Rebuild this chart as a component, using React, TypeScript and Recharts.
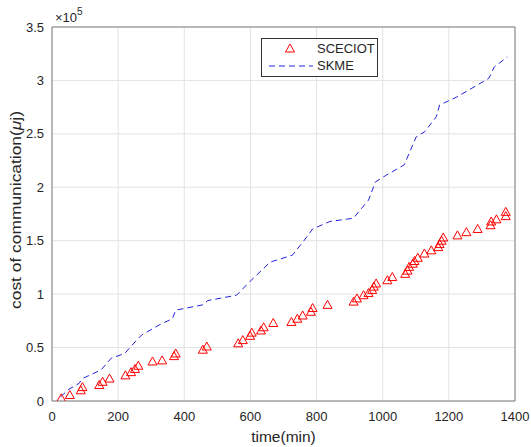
import React from 'react';
import {
  ComposedChart, Line, Scatter, XAxis, YAxis, CartesianGrid, ReferenceArea
} from 'recharts';

// values in units of 1e5 μj
const skmeTime = [26, 51, 82, 92, 148, 179, 220, 256, 271, 323, 364, 374, 456, 471, 558, 599, 660, 727, 763, 788, 840, 911, 957, 978, 1009, 1065, 1101, 1127, 1162, 1172, 1224, 1321, 1337, 1377];
const skmeCost = [0.04, 0.11, 0.165, 0.21, 0.29, 0.4, 0.445, 0.57, 0.617, 0.71, 0.77, 0.85, 0.9, 0.94, 0.99, 1.12, 1.3, 1.365, 1.505, 1.61, 1.68, 1.71, 1.88, 2.05, 2.11, 2.21, 2.47, 2.52, 2.66, 2.77, 2.845, 3.02, 3.125, 3.22];

const sceciotTime = [28, 54, 87, 92, 143, 153, 174, 222, 239, 251, 261, 304, 333, 369, 374, 456, 468, 563, 577, 599, 604, 632, 640, 669, 724, 742, 758, 783, 788, 833, 912, 922, 942, 957, 968, 973, 980, 1014, 1029, 1068, 1075, 1080, 1091, 1096, 1106, 1126, 1147, 1168, 1172, 1178, 1183, 1226, 1253, 1287, 1326, 1328, 1344, 1372, 1372];
const sceciotCost = [0.025, 0.056, 0.1, 0.13, 0.15, 0.18, 0.21, 0.24, 0.27, 0.3, 0.33, 0.37, 0.38, 0.42, 0.445, 0.48, 0.51, 0.54, 0.57, 0.61, 0.64, 0.66, 0.69, 0.73, 0.74, 0.77, 0.8, 0.835, 0.87, 0.9, 0.93, 0.96, 0.99, 1.01, 1.04, 1.07, 1.1, 1.13, 1.16, 1.19, 1.22, 1.255, 1.285, 1.31, 1.34, 1.38, 1.41, 1.44, 1.47, 1.5, 1.53, 1.55, 1.58, 1.61, 1.645, 1.68, 1.7, 1.73, 1.77];

const xTicks = [0, 200, 400, 600, 800, 1000, 1200, 1400];
const yTicks = [0, 0.5, 1, 1.5, 2, 2.5, 3, 3.5];

const skmeData = skmeTime.map((t, i) => ({ t, v: skmeCost[i] }));
const sceciotData = sceciotTime.map((t, i) => ({ t, v: sceciotCost[i] }));

const FONT = '"Liberation Sans", Arial, Helvetica, sans-serif';
const TEXT = '#262626';

const Triangle = (props: any) => {
  const { cx, cy } = props;
  if (cx == null || cy == null) return null;
  return (
    <path
      d={`M${cx},${cy - 4.5} L${cx + 4.5},${cy + 3.5} L${cx - 4.5},${cy + 3.5} Z`}
      fill="none"
      stroke="#ff0000"
      strokeWidth={1}
    />
  );
};

// legend drawn as an overlay, so it takes no room from the plot
const LegendBox = () => (
  <svg width={118} height={40} style={{ position: 'absolute', left: 261, top: 38 }}>
    <rect x={0.5} y={0.5} width={116} height={38} fill="#fff" stroke="#333" strokeWidth={1} />
    <path d="M29,6 L33.5,14 L24.5,14 Z" fill="none" stroke="#ff0000" strokeWidth={1} />
    <text x={56} y={15} fontSize={13} fill={TEXT} fontFamily={FONT}>SCECIOT</text>
    <line x1={8} y1={28} x2={52} y2={28} stroke="#2222dd" strokeDasharray="6 4" strokeWidth={1} />
    <text x={56} y={32} fontSize={13} fill={TEXT} fontFamily={FONT}>SKME</text>
  </svg>
);

export default function App() {
  return (
    <div style={{ position: 'absolute', left: 0, top: 0, width: 531, height: 447, background: '#fff' }}>
      <ComposedChart
        width={531}
        height={447}
        margin={{ top: 27, right: 16, bottom: 16, left: 12 }}
        style={{ fontFamily: FONT }}
      >
        <CartesianGrid stroke="#e3e3e3" strokeWidth={1} />
        <XAxis
          dataKey="t"
          type="number"
          domain={[0, 1400]}
          ticks={xTicks}
          height={30}
          tickLine={false}
          axisLine={false}
          tick={{ fill: TEXT, fontSize: 13 }}
          tickMargin={5}
          allowDataOverflow
        />
        <YAxis
          dataKey="v"
          type="number"
          domain={[0, 3.5]}
          ticks={yTicks}
          width={40}
          tickLine={false}
          axisLine={false}
          tick={{ fill: TEXT, fontSize: 13 }}
          tickMargin={2}
          allowDataOverflow
        />
        <ReferenceArea x1={0} x2={1400} y1={0} y2={3.5} fill="none" stroke="#7f7f7f" strokeWidth={1} ifOverflow="visible" />
        <Line
          data={skmeData}
          dataKey="v"
          type="linear"
          stroke="#2222dd"
          strokeWidth={1}
          strokeDasharray="6 4"
          dot={false}
          activeDot={false}
          isAnimationActive={false}
        />
        <Scatter
          data={sceciotData}
          dataKey="v"
          shape={<Triangle />}
          isAnimationActive={false}
        />
        <text
          x={0}
          y={0}
          transform="translate(21,210) rotate(-90)"
          textAnchor="middle"
          fontSize={15}
          textLength={198}
          lengthAdjust="spacingAndGlyphs"
          fill={TEXT}
          fontFamily={FONT}
        >
          cost of communication(<tspan fontStyle="italic">μ</tspan>j)
        </text>
        <text x={283.5} y={442} textAnchor="middle" fontSize={15.5} fill={TEXT} fontFamily={FONT}>
          time(min)
        </text>
        <text x={55} y={22} fontSize={13} fill={TEXT} fontFamily={FONT}>×10</text>
        <text x={77} y={15} fontSize={10} fill={TEXT} fontFamily={FONT}>5</text>
      </ComposedChart>
      <LegendBox />
    </div>
  );
}
